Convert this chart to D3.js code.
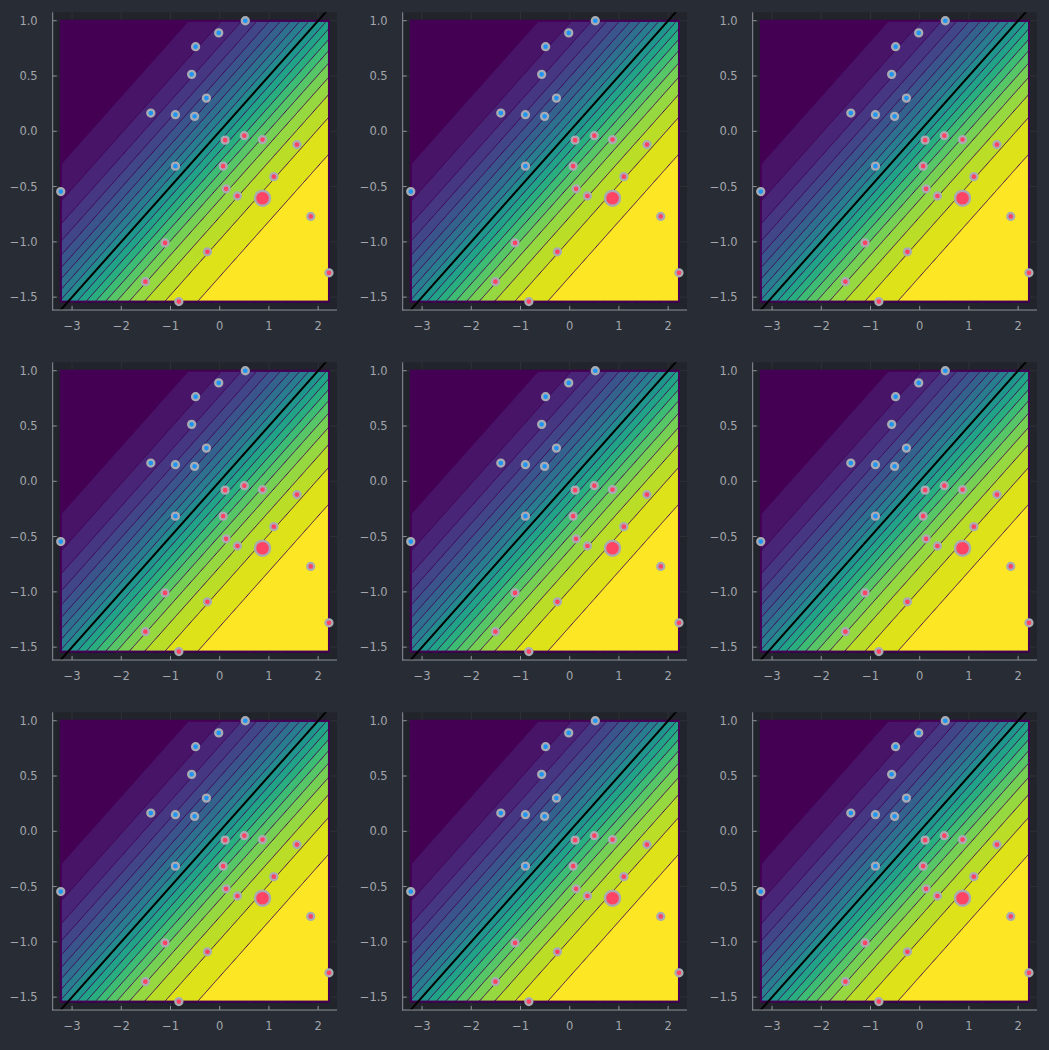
<!DOCTYPE html>
<html><head><meta charset="utf-8">
<script src="https://cdn.jsdelivr.net/npm/d3@7"></script>
<style>html,body{margin:0;padding:0;background:#282c34;} svg{display:block}</style>
</head><body><svg id="c" width="1049" height="1050"></svg>
<script>
// ---- data ----
const blueX = [0.52, -0.02, -0.49, -0.57, -0.27, -1.40, -0.90, -0.51, -0.90, -3.23];
const blueY = [1.00, 0.89, 0.765, 0.515, 0.30, 0.165, 0.15, 0.135, -0.315, -0.545];
const redX = [0.11, 0.50, 0.87, 1.57, 0.07, 1.10, 0.13, 0.36, 1.85, -1.11, -0.25, -1.51, -0.83, 2.22];
const redY = [-0.08, -0.04, -0.075, -0.12, -0.315, -0.41, -0.52, -0.585, -0.77, -1.01, -1.09, -1.36, -1.54, -1.28];
const bigX = [0.87];
const bigY = [-0.605];
const weights = [1.12, -2.24];
const bias = 0;
const levels = [0.05,0.10,0.15,0.20,0.25,0.30,0.35,0.40,0.45,0.50,0.55,0.60,0.65,0.70,0.75,0.80,0.85,0.90,0.95];
const xTicks = [-3, -2, -1, 0, 1, 2];
const yTicks = [-1.5, -1.0, -0.5, 0.0, 0.5, 1.0];
const panelRows = [0, 1, 2];
const panelCols = [0, 1, 2];

const svg = d3.select("#c");
const allX = blueX.concat(redX), allY = blueY.concat(redY);
const gx0 = d3.min(allX), gx1 = d3.max(allX), gy0 = d3.min(allY), gy1 = d3.max(allY);
const padX = 0.03 * (gx1 - gx0), padY = 0.03 * (gy1 - gy0);
const sigmoid = v => 1 / (1 + Math.exp(-v));
const prob = (x, y) => sigmoid(weights[0] * x + weights[1] * y + bias);

const nx = 260, ny = 260;
const grid = new Array(nx * ny);
for (let j = 0; j < ny; j++) {
  const y = gy1 - (j + 0.5) / ny * (gy1 - gy0);
  for (let i = 0; i < nx; i++) {
    const x = gx0 + (i + 0.5) / nx * (gx1 - gx0);
    grid[j * nx + i] = prob(x, y);
  }
}
const contours = d3.contours().size([nx, ny]).thresholds(levels)(grid);
const nb = levels.length; // bands 0..nb
const bandColor = i => d3.interpolateViridis(i / nb);
const fmtY = d3.format(".1f"), fmtX = d3.format("d");
const font = "'DejaVu Sans', sans-serif";

panelRows.forEach(r => panelCols.forEach(c => {
  const ox = c * 350, oy = r * 350;
  const L = ox + 52.7, R = ox + 337, T = oy + 12.3, B = oy + 310;
  const xs = d3.scaleLinear().domain([gx0 - padX, gx1 + padX]).range([L, R]);
  const ys = d3.scaleLinear().domain([gy0 - padY, gy1 + padY]).range([B, T]);
  const g = svg.append("g");
  const id = "clip" + r + c;
  g.append("clipPath").attr("id", id).append("rect")
    .attr("x", L).attr("y", T).attr("width", R - L).attr("height", B - T);
  g.append("rect").attr("x", L).attr("y", T).attr("width", R - L).attr("height", B - T).attr("fill", "#21252b");
  // grid
  const gg = g.append("g").attr("stroke", "#ffffff").attr("stroke-opacity", 0.06).attr("stroke-width", 1);
  xTicks.forEach(t => gg.append("line").attr("x1", xs(t)).attr("x2", xs(t)).attr("y1", T).attr("y2", B));
  yTicks.forEach(t => gg.append("line").attr("y1", ys(t)).attr("y2", ys(t)).attr("x1", L).attr("x2", R));
  // contour fill
  const proj = d3.geoTransform({
    point: function(u, v) {
      this.stream.point(xs(gx0 + u / nx * (gx1 - gx0)), ys(gy1 - v / ny * (gy1 - gy0)));
    }
  });
  const path = d3.geoPath(proj);
  const cg = g.append("g");
  cg.append("rect").attr("x", xs(gx0)).attr("y", ys(gy1)).attr("width", xs(gx1) - xs(gx0))
    .attr("height", ys(gy0) - ys(gy1)).attr("fill", bandColor(0));
  contours.forEach((ct, k) => {
    cg.append("path").attr("d", path(ct)).attr("fill", bandColor(k + 1)).attr("stroke", bandColor(k + 1)).attr("stroke-width", 0.5);
  });
  contours.forEach((ct, k) => {
    cg.append("path").attr("d", path(ct)).attr("fill", "none").attr("stroke", "#440154").attr("stroke-width", 1);
  });
  cg.append("rect").attr("x", xs(gx0)).attr("y", ys(gy1)).attr("width", xs(gx1) - xs(gx0))
    .attr("height", ys(gy0) - ys(gy1)).attr("fill", "none").attr("stroke", "#440154").attr("stroke-width", 2);
  // decision boundary
  const lx = [gx0 - padX, gx1 + padX];
  const ly = lx.map(x => -(weights[0] * x + bias) / weights[1]);
  g.append("line").attr("clip-path", "url(#" + id + ")")
    .attr("x1", xs(lx[0])).attr("y1", ys(ly[0])).attr("x2", xs(lx[1])).attr("y2", ys(ly[1]))
    .attr("stroke", "#000").attr("stroke-width", 2);
  // points
  const pts = (X, Y, col, rr, sw) => X.forEach((x, i) => g.append("circle")
    .attr("cx", xs(x)).attr("cy", ys(Y[i])).attr("r", rr)
    .attr("fill", col).attr("stroke", "#a9abb3").attr("stroke-width", sw));
  pts(blueX, blueY, "#1f96f5", 3.5, 2.3);
  pts(redX, redY, "#fe4365", 3.5, 2.3);
  pts(bigX, bigY, "#fe4365", 7.5, 2.4);
  // spines
  const ax = g.append("g").attr("stroke", "#8d9198").attr("stroke-width", 1);
  ax.append("line").attr("x1", L).attr("x2", L).attr("y1", T).attr("y2", B + 0.5);
  ax.append("line").attr("x1", L - 0.5).attr("x2", R).attr("y1", B).attr("y2", B);
  xTicks.forEach(t => ax.append("line").attr("x1", xs(t)).attr("x2", xs(t)).attr("y1", B).attr("y2", B - 4));
  yTicks.forEach(t => ax.append("line").attr("y1", ys(t)).attr("y2", ys(t)).attr("x1", L).attr("x2", L + 4));
  // labels
  xTicks.forEach(t => g.append("text").attr("x", xs(t)).attr("y", B + 20).attr("text-anchor", "middle")
    .attr("font-family", font).attr("font-size", 11.5).attr("fill", "#a3a7ad").text(fmtX(t)));
  yTicks.forEach(t => g.append("text").attr("x", L - 15).attr("y", ys(t)).attr("text-anchor", "end")
    .attr("dominant-baseline", "central").attr("font-family", font).attr("font-size", 11.5)
    .attr("fill", "#a3a7ad").text(fmtY(t)));
}));
</script></body></html>
